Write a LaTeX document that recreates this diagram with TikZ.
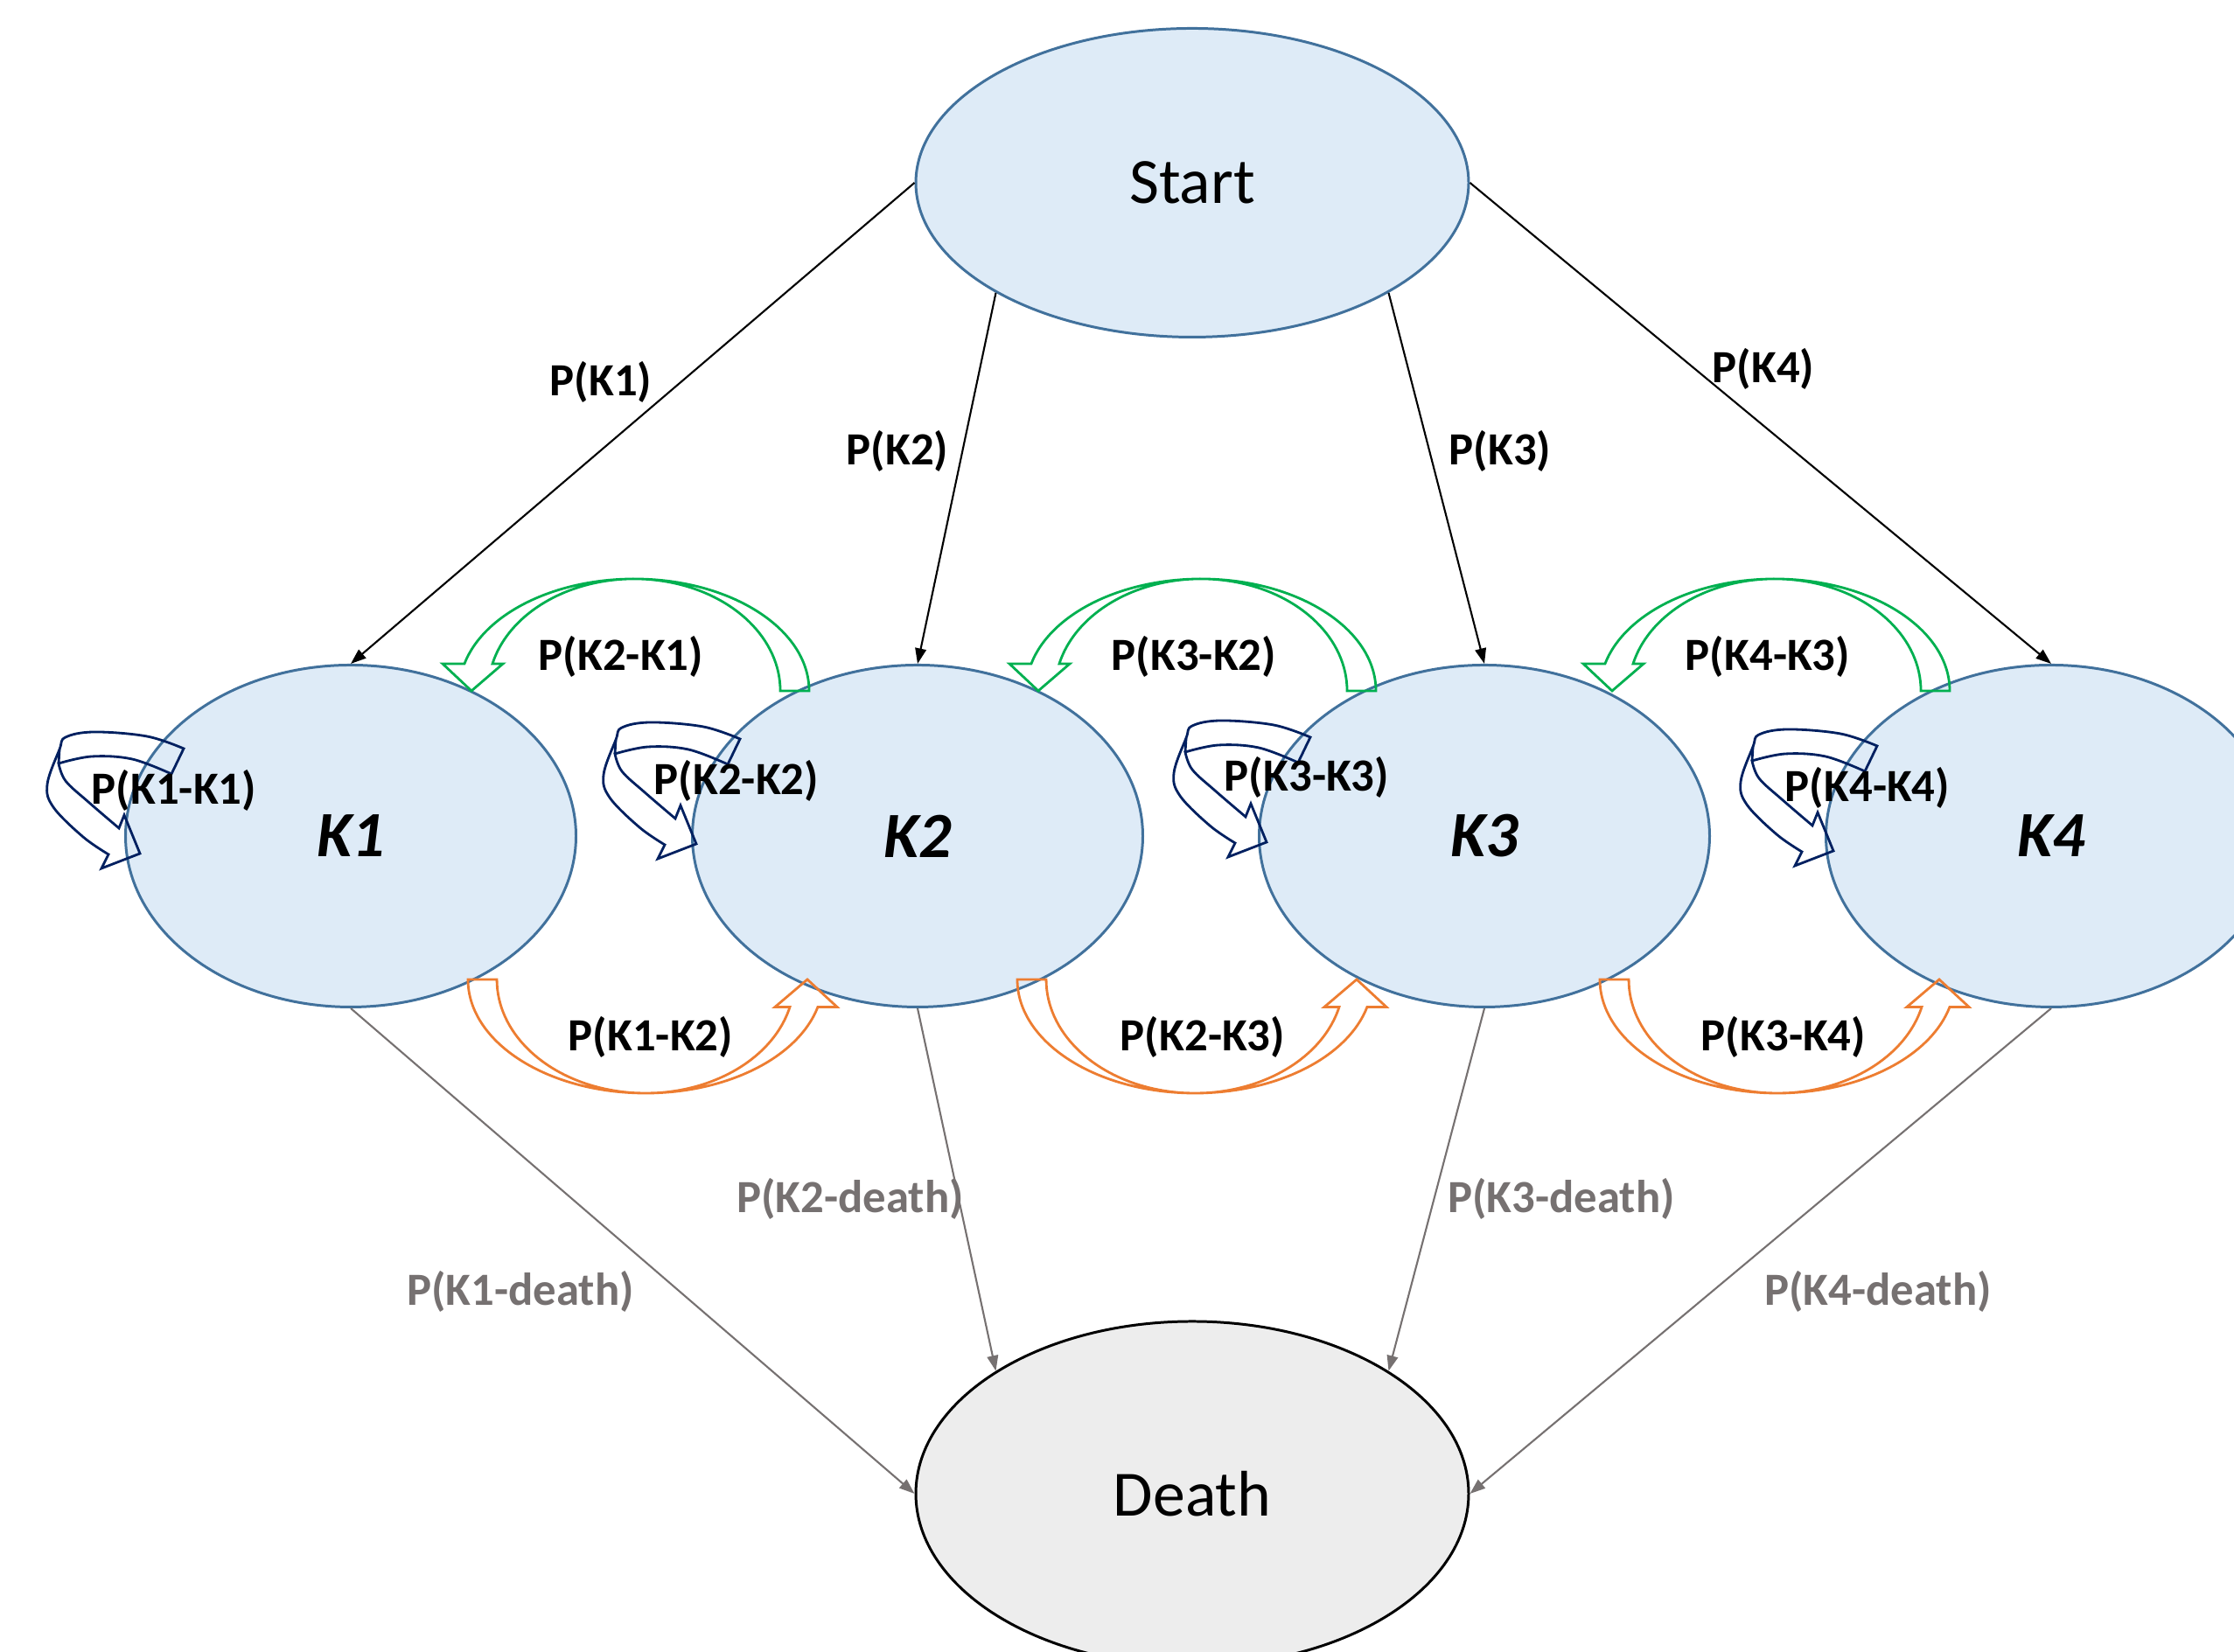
\documentclass[tikz,border=0pt]{standalone}
\usepackage{fontspec}
\setmainfont{Carlito}
\usetikzlibrary{shapes.geometric, arrows.meta}

\definecolor{stateblue}{HTML}{41719C}
\definecolor{statefill}{HTML}{DEEBF7}
\definecolor{deathfill}{HTML}{EDEDED}
\definecolor{backgreen}{HTML}{00B050}
\definecolor{fwdorange}{HTML}{ED7D31}
\definecolor{loopnavy}{HTML}{002060}
\definecolor{deathgray}{HTML}{767171}

\begin{document}
\begin{tikzpicture}[
    kstate/.style={ellipse, draw=stateblue, fill=statefill, line width=0.85pt, minimum width=5.15cm, minimum height=3.91cm, inner sep=0pt, font=\fontsize{21}{25}\selectfont\bfseries\itshape},
    endstate/.style={ellipse, line width=0.85pt, minimum width=6.32cm, inner sep=0pt, font=\fontsize{21}{25}\selectfont},
    arrow/.style={-{Triangle[length=5pt, width=3.6pt]}, line width=0.6pt},
    grayarrow/.style={arrow, draw=deathgray},
    lbl/.style={font=\fontsize{15}{18}\selectfont\bfseries},
    graylbl/.style={lbl, text=deathgray},
    backarr/.style={draw=backgreen, line width=0.8pt},
    fwdarr/.style={draw=fwdorange, line width=0.8pt},
    looparr/.style={draw=loopnavy, line width=0.8pt}
]

\useasboundingbox (0,0) rectangle (25.54,18.89);
\clip (0,0) rectangle (25.54,18.89);

% States
\node[endstate, draw=stateblue, fill=statefill, minimum height=3.53cm] (start) at (13.63,16.80) {Start};
\node[kstate] (k1) at (4.01,9.33) {K1};
\node[kstate] (k2) at (10.49,9.33) {K2};
\node[kstate] (k3) at (16.97,9.33) {K3};
\node[kstate] (k4) at (23.45,9.33) {K4};
\node[endstate, draw=black, fill=deathfill, minimum height=3.94cm] (death) at (13.63,1.81) {Death};

% Entry arrows
\draw[arrow] (start.west) -- (k1.north);
\draw[arrow] (start.south west) -- (k2.north);
\draw[arrow] (start.south east) -- (k3.north);
\draw[arrow] (start.east) -- (k4.north);

% Death arrows
\draw[grayarrow] (k1.south) -- (death.west);
\draw[grayarrow] (k2.south) -- (death.north west);
\draw[grayarrow] (k3.south) -- (death.north east);
\draw[grayarrow] (k4.south) -- (death.east);

% Backward (green) and forward (orange) block arrows
\foreach \mx/\gx/\ox in {7.25/0/0.13, 13.73/0/-0.07, 20.21/0.08/0.11} {
  \begin{scope}[shift={(\mx+\gx,10.99)}]
    \draw[backarr] (2.00,0) arc[start angle=0, end angle=166, x radius=2.00, y radius=1.28]
      -- (-2.19,0.31) -- (-1.86,0) -- (-1.50,0.31) -- (-1.62,0.31)
      arc[start angle=166, end angle=0, x radius=1.67, y radius=1.28] -- cycle;
  \end{scope}
  \begin{scope}[shift={(\mx+\ox,7.69)}]
    \draw[fwdarr] (-2.03,0) arc[start angle=180, end angle=346, x radius=2.03, y radius=1.30]
      -- (2.19,-0.315) -- (1.85,0) -- (1.48,-0.315) -- (1.65,-0.315)
      arc[start angle=346, end angle=180, x radius=1.70, y radius=1.30] -- cycle;
  \end{scope}
}

% Self loops
\foreach \k/\dx/\dy in {k1/0/0, k2/-0.12/0.11, k3/-0.08/0.13, k4/-0.08/0.03} {
  \begin{scope}[shift={(\k.west)}, xshift=\dx cm, yshift=\dy cm]
    \draw[looparr] plot[smooth, tension=0.6] coordinates {(0.68,1.00) (0.26,1.14) (-0.34,1.19) (-0.67,1.13) (-0.74,0.99) (-0.88,0.59) (-0.81,0.33) (-0.47,-0.01) (-0.18,-0.21)}
      -- (-0.26,-0.37) -- (0.18,-0.20) -- (0.00,0.24) -- (-0.06,0.09)
      -- plot[smooth, tension=0.6] coordinates {(-0.06,0.09) (-0.41,0.39) (-0.67,0.63) (-0.75,0.83)}
      -- plot[smooth, tension=0.6] coordinates {(-0.75,0.83) (-0.37,0.91) (0.09,0.88) (0.54,0.71)}
      -- cycle;
    \draw[looparr] (-0.75,0.83) -- (-0.74,0.99);
  \end{scope}
}

% Labels
\node[lbl] (pk1) at (6.87,14.52) {P(K1)};
\node[lbl] (pk2) at (10.26,13.73) {P(K2)};
\node[lbl] (pk3) at (17.15,13.73) {P(K3)};
\node[lbl] (pk4) at (20.16,14.67) {P(K4)};

\node[lbl] (pk2k1) at (7.10,11.38) {P(K2-K1)};
\node[lbl] (pk3k2) at (13.65,11.38) {P(K3-K2)};
\node[lbl] (pk4k3) at (20.21,11.38) {P(K4-K3)};

\node[lbl] (pk1k1) at (1.99,9.85) {P(K1-K1)};
\node[lbl] (pk2k2) at (8.42,9.96) {P(K2-K2)};
\node[lbl] (pk3k3) at (14.94,10.00) {P(K3-K3)};
\node[lbl] (pk4k4) at (21.35,9.88) {P(K4-K4)};

\node[lbl] (pk1k2) at (7.44,7.03) {P(K1-K2)};
\node[lbl] (pk2k3) at (13.75,7.03) {P(K2-K3)};
\node[lbl] (pk3k4) at (20.39,7.03) {P(K3-K4)};

\node[graylbl] (pk1d) at (5.95,4.12) {P(K1-death)};
\node[graylbl] (pk2d) at (9.72,5.18) {P(K2-death)};
\node[graylbl] (pk3d) at (17.85,5.18) {P(K3-death)};
\node[graylbl] (pk4d) at (21.47,4.12) {P(K4-death)};

\end{tikzpicture}
\end{document}
